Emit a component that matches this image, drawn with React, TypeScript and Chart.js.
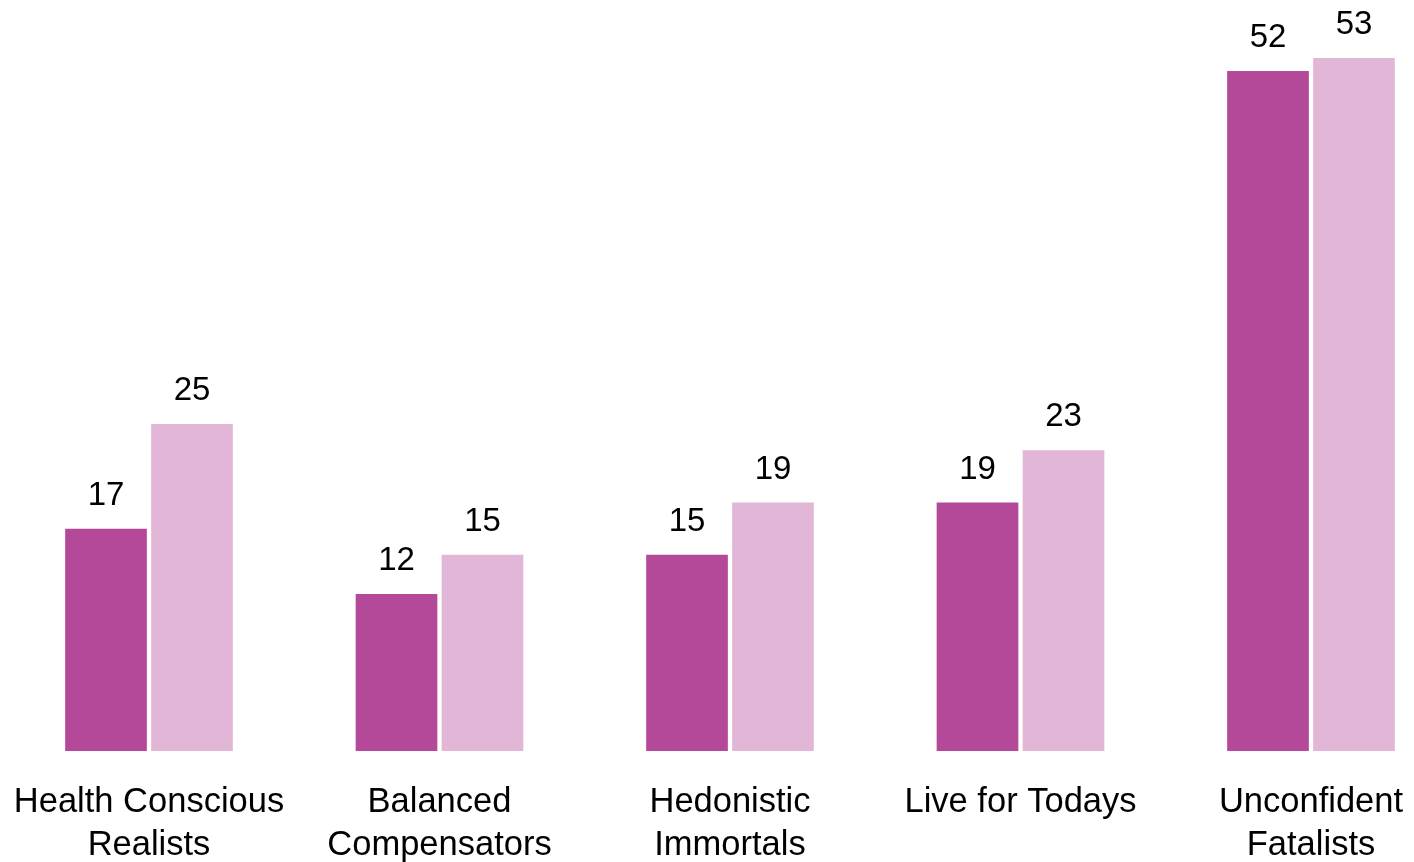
import React, { useEffect, useRef } from "react";
import { Chart, registerables } from "chart.js";

Chart.register(...registerables);

const categories: string[][] = [
  ["Health Conscious", "Realists"],
  ["Balanced", "Compensators"],
  ["Hedonistic", "Immortals"],
  ["Live for Todays"],
  ["Unconfident", "Fatalists"],
];
const seriesA: number[] = [17, 12, 15, 19, 52];
const seriesB: number[] = [25, 15, 19, 23, 53];
const colorA = "#B4499A";
const colorB = "#E2B6D6";
const FONT = "'Liberation Sans', Arial, sans-serif";

const valueLabels = {
  id: "valueLabels",
  afterDatasetsDraw(chart: any) {
    const ctx = chart.ctx;
    ctx.save();
    ctx.font = `33px ${FONT}`;
    ctx.fillStyle = "#000";
    ctx.textAlign = "center";
    ctx.textBaseline = "alphabetic";
    chart.data.datasets.forEach((ds: any, i: number) => {
      const meta = chart.getDatasetMeta(i);
      meta.data.forEach((bar: any, j: number) => {
        ctx.fillText(String(ds.data[j]), bar.x, bar.y - 24);
      });
    });
    ctx.restore();
  },
};

export default function App() {
  const ref = useRef<HTMLCanvasElement | null>(null);
  useEffect(() => {
    if (!ref.current) return;
    const chart = new Chart(ref.current, {
      type: "bar",
      data: {
        labels: categories,
        datasets: [
          { data: seriesA, backgroundColor: colorA, clip: false as any },
          { data: seriesB, backgroundColor: colorB, clip: false as any },
        ],
      },
      options: {
        animation: false,
        responsive: false,
        maintainAspectRatio: false,
        layout: { padding: { left: 149, right: 103, top: 58, bottom: 0 } },
        datasets: { bar: { categoryPercentage: 0.592, barPercentage: 0.95 } },
        plugins: { legend: { display: false }, tooltip: { enabled: false } },
        scales: {
          x: {
            offset: false,
            grid: { display: false, drawTicks: false },
            border: { display: false },
            ticks: {
              color: "#000",
              maxRotation: 0,
              autoSkip: false,
              padding: 30,
              font: { family: FONT, size: 34.5, lineHeight: 43 / 34.5 },
            },
            afterFit: (scale: any) => {
              scale.paddingLeft = 0;
              scale.paddingRight = 0;
              scale.height = 113;
            },
          },
          y: {
            display: false,
            min: 0,
            max: 53,
          },
        },
      },
      plugins: [valueLabels],
    });
    return () => chart.destroy();
  }, []);
  return (
    <div style={{ position: "fixed", left: 0, top: 0, width: 1414, height: 864, background: "#fff" }}>
      <canvas ref={ref} width={1414} height={864} style={{ display: "block" }} />
    </div>
  );
}
